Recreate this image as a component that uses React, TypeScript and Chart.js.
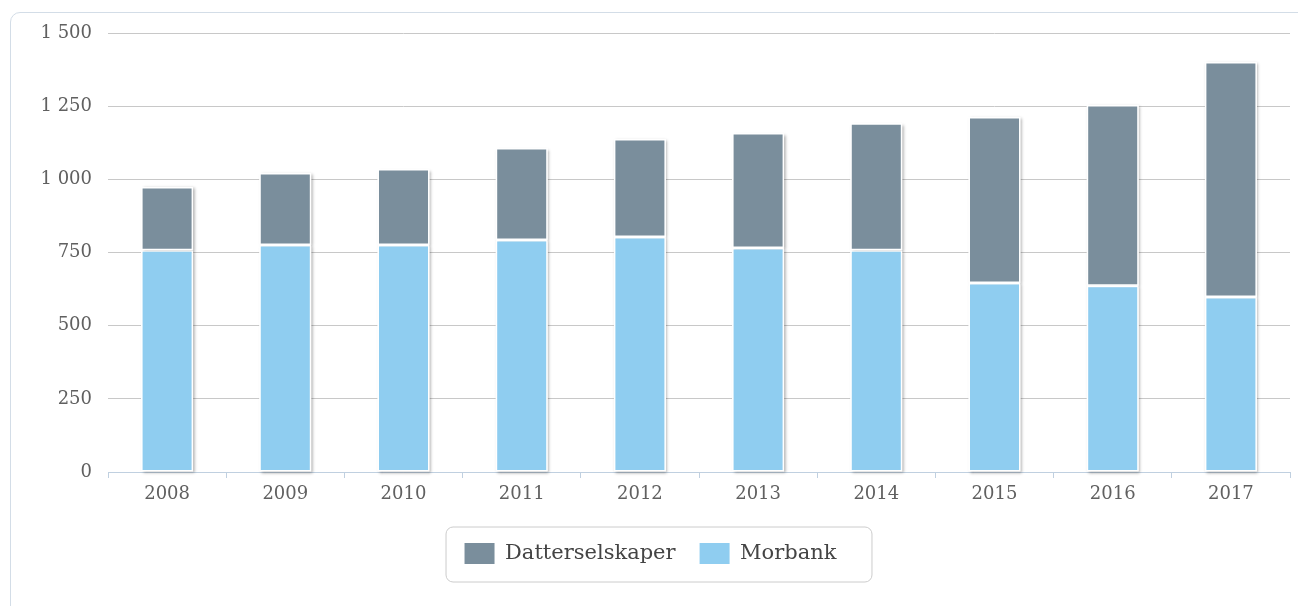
import React, { useEffect, useRef } from 'react';
import { Chart, registerables } from 'chart.js';

Chart.register(...registerables);

const years = ['2008', '2009', '2010', '2011', '2012', '2013', '2014', '2015', '2016', '2017'];
const morbank = [758, 776, 776, 793, 803, 765, 758, 646, 636, 598];
const datterselskaper = [216, 246, 259, 314, 335, 393, 434, 567, 618, 803];
const yTicks = [0, 250, 500, 750, 1000, 1250, 1500];

const FONT = '"DejaVu Serif", serif';

export default function App() {
  const ref = useRef<HTMLCanvasElement>(null);

  useEffect(() => {
    if (!ref.current) return;

    const barShadow = {
      id: 'barShadow',
      beforeDatasetsDraw(chart: any) {
        const ctx = chart.ctx;
        ctx.save();
        ctx.shadowColor = 'rgba(0,0,0,0.35)';
        ctx.shadowBlur = 3;
        ctx.shadowOffsetX = 1.5;
        ctx.shadowOffsetY = 1.5;
        ctx.fillStyle = '#ffffff';
        chart.data.datasets.forEach((_: any, i: number) => {
          const meta = chart.getDatasetMeta(i);
          meta.data.forEach((el: any) => {
            const p = el.getProps(['x', 'y', 'base', 'width'], true);
            const top = Math.min(p.y, p.base);
            const h = Math.abs(p.base - p.y);
            ctx.fillRect(p.x - p.width / 2, top, p.width, h);
          });
        });
        ctx.restore();
      },
    };

    const legendBorder = {
      id: 'legendBorder',
      afterDraw(chart: any) {
        const lg = chart.legend;
        const hb = lg && lg.legendHitBoxes;
        if (!hb || !hb.length) return;
        const first = hb[0];
        const last = hb[hb.length - 1];
        const left = first.left - 19;
        const right = last.left + last.width + 35;
        const cy = first.top + first.height / 2;
        const top = cy - 27;
        const h = 55;
        const ctx = chart.ctx;
        ctx.save();
        ctx.strokeStyle = '#cccccc';
        ctx.lineWidth = 1;
        ctx.beginPath();
        (ctx as any).roundRect(left + 0.5, top + 0.5, right - left, h, 7);
        ctx.stroke();
        ctx.restore();
      },
    };

    const chart = new Chart(ref.current, {
      type: 'bar',
      data: {
        labels: years,
        datasets: [
          {
            label: 'Morbank',
            data: morbank,
            backgroundColor: '#8fcdf0',
            borderColor: '#ffffff',
            borderWidth: 1.5,
            borderSkipped: false,
            categoryPercentage: 1,
            barPercentage: 0.44,
          },
          {
            label: 'Datterselskaper',
            data: datterselskaper,
            backgroundColor: '#7a8e9c',
            borderColor: '#ffffff',
            borderWidth: 1.5,
            borderSkipped: false,
            categoryPercentage: 1,
            barPercentage: 0.44,
          },
        ],
      },
      options: {
        animation: false,
        responsive: false,
        maintainAspectRatio: false,
        layout: { padding: { left: 11, right: 8, top: 33, bottom: 32 } },
        scales: {
          x: {
            stacked: true,
            afterFit: (s: any) => { s.height = 47; },
            grid: {
              display: true,
              drawOnChartArea: false,
              drawTicks: true,
              tickLength: 6,
              color: '#c0d0e0',
              offset: true,
            },
            border: { display: true, color: '#c0d0e0', width: 1 },
            ticks: {
              padding: 6,
              color: '#606060',
              font: { family: FONT, size: 18 },
            },
          },
          y: {
            stacked: true,
            min: 0,
            max: 1500,
            afterFit: (s: any) => { s.width = 97; },
            afterBuildTicks: (s: any) => { s.ticks = yTicks.map((v) => ({ value: v })); },
            grid: { color: '#c8c8c8', drawTicks: false, lineWidth: 1 },
            border: { display: false },
            ticks: {
              padding: 16,
              color: '#606060',
              font: { family: FONT, size: 18 },
              callback: (v: any) => {
                const n = Number(v);
                return n >= 1000 ? `${Math.floor(n / 1000)} ${String(n % 1000).padStart(3, '0')}` : String(n);
              },
            },
          },
        },
        plugins: {
          tooltip: { enabled: false },
          legend: {
            position: 'bottom',
            reverse: true,
            labels: {
              boxWidth: 30,
              boxHeight: 21,
              padding: 24,
              color: '#444444',
              font: { family: FONT, size: 21 },
              generateLabels: (c: any) =>
                Chart.defaults.plugins.legend.labels
                  .generateLabels(c)
                  .map((l: any) => ({ ...l, lineWidth: 0, strokeStyle: 'rgba(0,0,0,0)' })),
            },
          },
        },
      } as any,
      plugins: [barShadow, legendBorder],
    });

    return () => chart.destroy();
  }, []);

  return (
    <div style={{ position: 'fixed', left: 0, top: 0, width: 1298, height: 606, overflow: 'hidden', background: '#ffffff' }}>
      <div
        style={{
          position: 'absolute',
          left: 10,
          top: 12,
          width: 1320,
          height: 640,
          border: '1px solid #d3dde7',
          borderRadius: 10,
          boxSizing: 'border-box',
        }}
      />
      <canvas
        ref={ref}
        width={1298}
        height={606}
        style={{ position: 'absolute', left: 0, top: 0, width: 1298, height: 606 }}
      />
    </div>
  );
}
